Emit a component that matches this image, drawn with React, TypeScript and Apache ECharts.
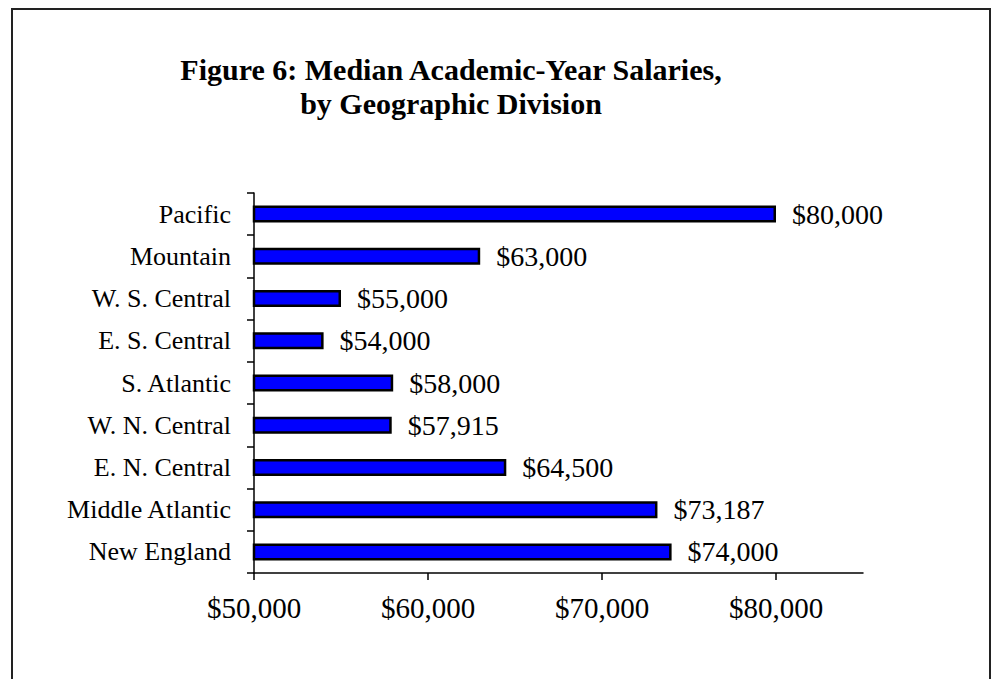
import React, { useEffect, useRef } from "react";
import * as echarts from "echarts";

const categories = [
  "New England",
  "Middle Atlantic",
  "E. N. Central",
  "W. N. Central",
  "S. Atlantic",
  "E. S. Central",
  "W. S. Central",
  "Mountain",
  "Pacific",
];
const salaries = [74000, 73187, 64500, 57915, 58000, 54000, 55000, 63000, 80000];
const tickValues = [50000, 60000, 70000, 80000];
const titleLines = ["Figure 6: Median Academic-Year Salaries,", "by Geographic Division"];

const fmt = (v: number) => "$" + v.toLocaleString("en-US");
const FONT = "'Liberation Serif', 'Times New Roman', serif";

export default function App() {
  const ref = useRef<HTMLDivElement>(null);
  useEffect(() => {
    document.body.style.margin = "0";
    const chart = echarts.init(ref.current!, undefined, { renderer: "svg" });
    chart.setOption({
      animation: false,
      backgroundColor: "#ffffff",
      graphic: [
        {
          type: "rect",
          shape: { x: 12, y: 9, width: 978, height: 720 },
          style: { fill: "none", stroke: "#222", lineWidth: 2 },
          silent: true,
        },
      ],
      title: {
        text: titleLines.join("\n"),
        left: 446,
        textAlign: "center",
        top: 47,
        textStyle: {
          fontFamily: FONT,
          fontWeight: "bold",
          fontSize: 30,
          lineHeight: 34,
          color: "#000",
        },
      },
      grid: { left: 254, right: 129, top: 193, bottom: 106 },
      xAxis: {
        type: "value",
        min: 50000,
        max: 85000,
        interval: 10000,
        axisLine: { show: true, lineStyle: { color: "#000", width: 1.5 } },
        axisTick: { show: true, length: 7, customValues: tickValues, lineStyle: { color: "#000", width: 1.5 } },
        splitLine: { show: false },
        axisLabel: {
          customValues: tickValues,
          formatter: (v: number) => fmt(v),
          fontFamily: FONT,
          fontSize: 29,
          color: "#000",
          margin: 20,
        },
      },
      yAxis: {
        type: "category",
        data: categories,
        axisLine: { show: true, lineStyle: { color: "#000", width: 1.5 } },
        axisTick: { show: true, length: 7, lineStyle: { color: "#000", width: 1.5 } },
        axisLabel: { fontFamily: FONT, fontSize: 26, color: "#000", margin: 23 },
        splitLine: { show: false },
      },
      series: [
        {
          type: "bar",
          data: salaries,
          barWidth: 17,
          itemStyle: { color: "#0000ff", borderColor: "#000", borderWidth: 2.5 },
          label: {
            show: true,
            position: "right",
            distance: 16,
            formatter: (p: any) => fmt(p.value),
            fontFamily: FONT,
            fontSize: 28,
            color: "#000",
          },
        },
      ],
    });
    return () => chart.dispose();
  }, []);
  return <div ref={ref} style={{ width: 992, height: 679 }} />;
}
